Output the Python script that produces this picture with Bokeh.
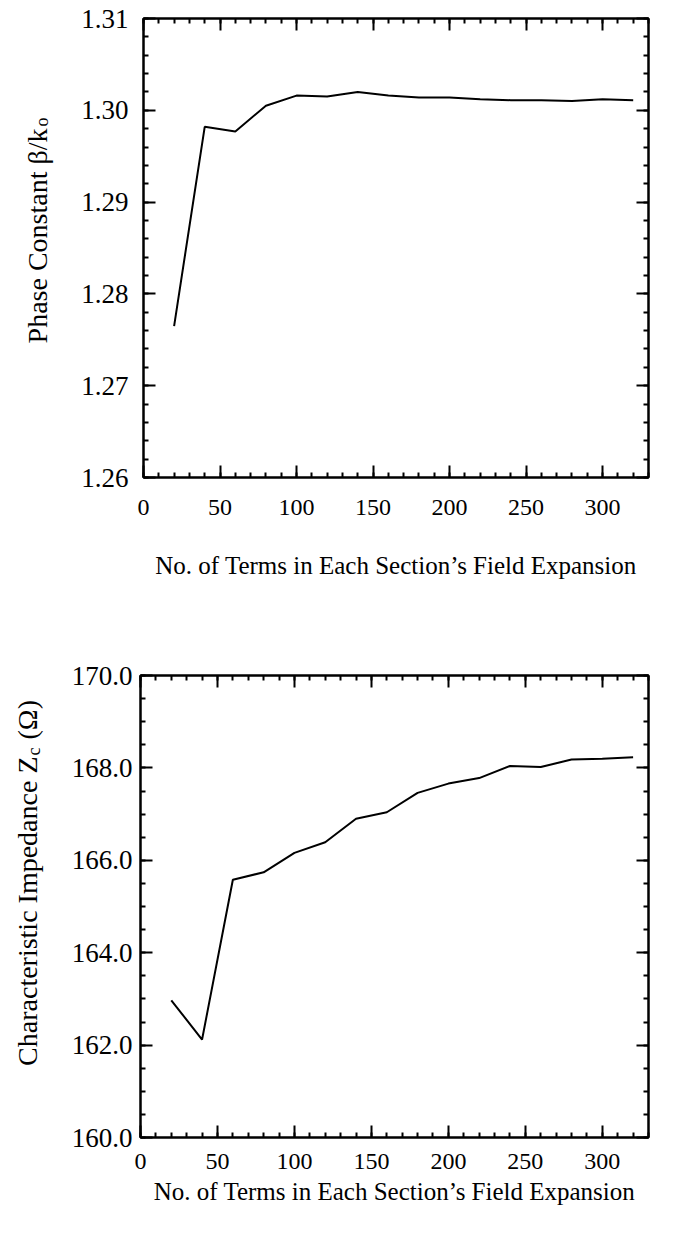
import math
from bokeh.plotting import figure
from bokeh.models import (LinearAxis, SingleIntervalTicker, PrintfTickFormatter,
                          CustomJSTickFormatter, Range1d)
from bokeh.core.properties import value
from bokeh.layouts import column, row
from bokeh.embed import file_html
from bokeh.resources import INLINE

# ---------------- data ----------------
terms = [20, 40, 60, 80, 100, 120, 140, 160, 180, 200, 220, 240, 260, 280, 300, 320]
phase_constant = [1.2765, 1.2982, 1.2977, 1.3005, 1.3016, 1.3015, 1.3020, 1.3016,
                  1.3014, 1.3014, 1.3012, 1.3011, 1.3011, 1.3010, 1.3012, 1.3011]
impedance = [162.97, 162.12, 165.58, 165.74, 166.16, 166.39, 166.90, 167.04,
             167.46, 167.66, 167.78, 168.04, 168.02, 168.18, 168.20, 168.23]

x_range = (0, 330)
phase_range = (1.26, 1.31)
imp_range = (160.0, 170.0)
x_title = "No. of Terms in Each Section\u2019s Field Expansion"
phase_title = "Phase Constant \u03b2/k"
phase_sub = "o"
imp_title = "Characteristic Impedance Z"
imp_sub = "c"
imp_tail = "(\u03a9)"

FONT = "Liberation Serif"
LAB_W = 60  # width of the strip that carries the rotated y titles


def style_axis(ax, ticker, fmt, labels=True, standoff=15, size="24px"):
    ax.ticker = ticker
    ax.axis_line_width = 2
    ax.axis_line_color = "black"
    ax.major_tick_in = 12
    ax.major_tick_out = 0
    ax.minor_tick_in = 5
    ax.minor_tick_out = 0
    ax.major_tick_line_width = 2
    ax.minor_tick_line_width = 2
    ax.major_tick_line_color = "black"
    ax.minor_tick_line_color = "black"
    ax.major_label_text_font = FONT
    ax.major_label_text_color = "black"
    ax.major_label_text_font_size = size
    if labels:
        ax.formatter = fmt
        ax.major_label_standoff = standoff
    else:
        ax.formatter = CustomJSTickFormatter(code="return ''")
        ax.major_label_standoff = 0


def make_panel(ys, yr, y_interval, y_minor, y_fmt, frame_w, frame_h,
               left, right, top, bottom, x_standoff, y_standoff, title_standoff):
    p = figure(width=left + frame_w + right, height=top + frame_h + bottom,
               frame_width=frame_w, frame_height=frame_h,
               x_range=Range1d(*x_range), y_range=Range1d(*yr),
               output_backend="svg", toolbar_location=None,
               min_border_left=left, min_border_right=right,
               min_border_top=top, min_border_bottom=bottom,
               x_axis_location=None, y_axis_location=None)
    p.grid.visible = False
    p.outline_line_color = "black"
    p.outline_line_width = 2
    p.background_fill_color = "white"
    p.border_fill_color = "white"

    xt = lambda: SingleIntervalTicker(interval=50, num_minor_ticks=5)
    yt = lambda: SingleIntervalTicker(interval=y_interval, num_minor_ticks=y_minor)

    xb = LinearAxis(axis_label=x_title)
    style_axis(xb, xt(), PrintfTickFormatter(format="%d"), True, x_standoff, "24px")
    xb.axis_label_text_font = FONT
    xb.axis_label_text_font_size = "25px"
    xb.axis_label_text_font_style = "normal"
    xb.axis_label_text_color = "black"
    xb.axis_label_standoff = title_standoff
    p.add_layout(xb, "below")
    xa = LinearAxis()
    style_axis(xa, xt(), None, False)
    p.add_layout(xa, "above")
    yl = LinearAxis()
    style_axis(yl, yt(), PrintfTickFormatter(format=y_fmt), True, y_standoff, "27px")
    p.add_layout(yl, "left")
    yrax = LinearAxis()
    style_axis(yrax, yt(), None, False)
    p.add_layout(yrax, "right")

    p.line(terms, ys, line_color="black", line_width=2)
    return p


def make_title_strip(height, parts):
    """Narrow strip whose frame fills it; draws the rotated y title pieces.
    parts: (x_px, y_px_from_top, text, size, align)"""
    s = figure(width=LAB_W, height=height, frame_width=LAB_W, frame_height=height,
               x_range=Range1d(0, LAB_W), y_range=Range1d(height, 0),
               output_backend="svg", toolbar_location=None,
               min_border=0, min_border_left=0, min_border_right=0,
               min_border_top=0, min_border_bottom=0,
               x_axis_location=None, y_axis_location=None)
    s.grid.visible = False
    s.outline_line_color = None
    s.background_fill_color = "white"
    s.border_fill_color = "white"
    for (x, y, txt, size, align) in parts:
        s.text(x=[x], y=[y], text=[txt], angle=math.pi / 2,
               text_font=value(FONT), text_font_size=value(size),
               text_align=align, text_baseline="alphabetic", text_color="black")
    return s


H1, H2 = 620, 627

# ---------- top panel ----------
p1 = make_panel(phase_constant, phase_range, 0.01, 5, "%.2f",
                frame_w=505, frame_h=459, left=143 - LAB_W, right=31, top=18,
                bottom=H1 - 18 - 459, x_standoff=22, y_standoff=15,
                title_standoff=34)
s1 = make_title_strip(H1, [
    (37, 110, phase_title, "28px", "right"),
    (41, 108, phase_sub, "18px", "left"),
])

# ---------- bottom panel ----------
p2 = make_panel(impedance, imp_range, 2, 4, "%.1f",
                frame_w=508, frame_h=462, left=140 - LAB_W, right=31, top=55,
                bottom=H2 - 55 - 462, x_standoff=16, y_standoff=8,
                title_standoff=6)
s2 = make_title_strip(H2, [
    (27, 81, imp_title, "28px", "right"),
    (33, 80, imp_sub, "18px", "left"),
    (27, 64, imp_tail, "28px", "left"),
])

layout = column(row(s1, p1, spacing=0), row(s2, p2, spacing=0), spacing=0)
open("out.html", "w").write(file_html(layout, INLINE))
